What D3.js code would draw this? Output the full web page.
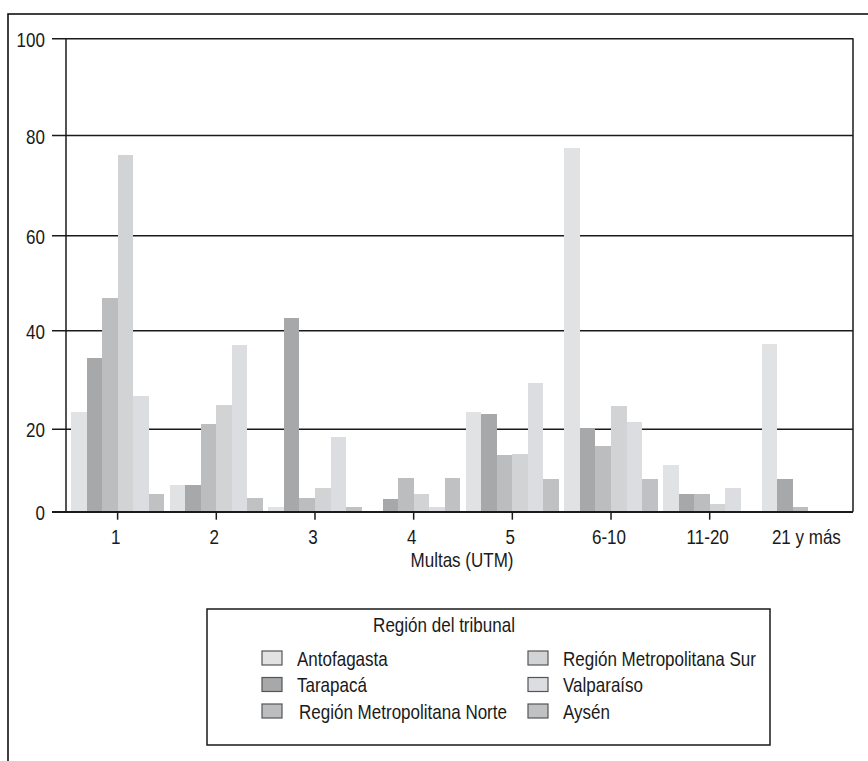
<!DOCTYPE html>
<html><head><meta charset="utf-8">
<script src="https://cdn.jsdelivr.net/npm/d3@7"></script>
<style>
body{margin:0;background:#fff}
svg{display:block}
text{font-family:"Liberation Sans",Arimo,Arial,sans-serif;fill:#1a1a1a}
</style>
</head><body>
<svg id="c" width="868" height="761"></svg>
<script>
const categories = ["1","2","3","4","5","6-10","11-20","21 y más"];
const regions = ["Antofagasta","Tarapacá","Región Metropolitana Norte","Región Metropolitana Sur","Valparaíso","Aysén"];
const antofagasta = [23.3, 6.4, 1.1, 0, 23.3, 77.4, 11.3, 37.2];
const tarapaca    = [34.4, 6.4, 42.6, 3.1, 23.0, 20.1, 4.3, 7.9];
const rmNorte     = [46.8, 21.0, 3.4, 8.1, 13.7, 15.8, 4.3, 1.1];
const rmSur       = [76.0, 24.8, 5.8, 4.3, 13.9, 24.6, 1.9, 0];
const valparaiso  = [26.7, 37.0, 18.0, 1.1, 29.3, 21.4, 5.7, 0];
const aysen       = [4.3, 3.4, 1.1, 8.1, 7.9, 7.9, 0, 0];
const yTicks = [0, 20, 40, 60, 80, 100];
const xTitle = "Multas (UTM)";
const legendTitle = "Región del tribunal";
const colors = ["#e1e2e4","#a7a8aa","#bcbdbf","#d2d3d5","#dcdde0","#c0c1c3"];

const FS = 20.5, SX = 0.83; // condensed look

const series = [antofagasta, tarapaca, rmNorte, rmSur, valparaiso, aysen];
const rows = [];
categories.forEach((c, i) => regions.forEach((r, j) => rows.push({cat: c, reg: r, v: series[j][i], color: colors[j]})));

const svg = d3.select("#c");
const plot = {left: 66, right: 853, top: 38.3, bottom: 511.7};

function ctext(parent, x, y, str, anchor) {
  return parent.append("text")
    .attr("transform", `translate(${x},${y}) scale(${SX},1)`)
    .attr("text-anchor", anchor || "start")
    .attr("font-size", FS).text(str);
}

// outer frame
svg.append("rect").attr("x", 8).attr("y", 14).attr("width", 900).attr("height", 800)
  .attr("fill", "none").attr("stroke", "#111").attr("stroke-width", 1.6);

// scales (gridline spacing as drawn in the original)
const y = d3.scaleLinear().domain(yTicks).range([511.7, 428.7, 330.3, 235.3, 135, 38.3]);
const x0 = d3.scaleBand().domain(categories).range([71, 855]).paddingInner(0.055).paddingOuter(0);
const x1 = d3.scaleBand().domain(regions).range([0, x0.bandwidth()]);

// gridlines + y ticks
const yAxis = d3.axisLeft(y).tickValues(yTicks).tickSize(0).tickFormat(d3.format("d"));
const yg = svg.append("g").attr("transform", `translate(52,0)`).call(yAxis);
yg.select(".domain").remove();
yg.selectAll(".tick line").attr("stroke", "#1a1a1a").attr("stroke-width", 1.5)
  .attr("x1", 0).attr("x2", plot.right - 52);
yg.selectAll(".tick text").attr("font-size", FS).attr("x", null).attr("dy", null)
  .attr("text-anchor", "end").attr("transform", `translate(-7,8) scale(${SX},1)`);

// bars
svg.append("g").selectAll("rect").data(rows.filter(d => d.v > 0)).join("rect")
  .attr("x", d => x0(d.cat) + x1(d.reg))
  .attr("y", d => y(d.v))
  .attr("width", x1.bandwidth())
  .attr("height", d => y(0) - y(d.v))
  .attr("fill", d => d.color)
  .attr("shape-rendering", "crispEdges");

// axis lines / frame of plot
svg.append("line").attr("x1", plot.left).attr("x2", plot.left).attr("y1", plot.top).attr("y2", plot.bottom)
  .attr("stroke", "#1a1a1a").attr("stroke-width", 1.5);
svg.append("line").attr("x1", plot.right).attr("x2", plot.right).attr("y1", plot.top).attr("y2", plot.bottom)
  .attr("stroke", "#1a1a1a").attr("stroke-width", 1.5);
svg.append("line").attr("x1", 52).attr("x2", plot.right).attr("y1", plot.bottom).attr("y2", plot.bottom)
  .attr("stroke", "#1a1a1a").attr("stroke-width", 1.6);

// x axis
const xAxis = d3.axisBottom(x0).tickSize(8);
const xg = svg.append("g").attr("transform", `translate(0,${plot.bottom})`).call(xAxis);
xg.select(".domain").remove();
xg.selectAll(".tick line").attr("stroke", "#1a1a1a").attr("stroke-width", 1.5)
  .attr("opacity", (d, i) => i === categories.length - 1 ? 0 : 1);
xg.selectAll(".tick text").attr("font-size", FS).attr("fill", "#1a1a1a")
  .attr("y", null).attr("dy", null).attr("transform", `translate(-2,32) scale(${SX},1)`);

ctext(svg, 462, 567, xTitle, "middle");

// legend
const lg = svg.append("g");
lg.append("rect").attr("x", 207).attr("y", 609).attr("width", 563).attr("height", 136)
  .attr("fill", "#fff").attr("stroke", "#1a1a1a").attr("stroke-width", 1.5);
ctext(lg, 444, 632, legendTitle, "middle");
regions.forEach((r, i) => {
  const gx = i < 3 ? 262 : 528, gy = 651 + (i % 3) * 26.5;
  lg.append("rect").attr("x", gx).attr("y", gy).attr("width", 20).attr("height", 14)
    .attr("fill", colors[i]).attr("stroke", "#555").attr("stroke-width", 1.2);
  ctext(lg, gx + (i === 2 ? 37 : 35), gy + 14.5, r, "start");
});
</script>
</body></html>
